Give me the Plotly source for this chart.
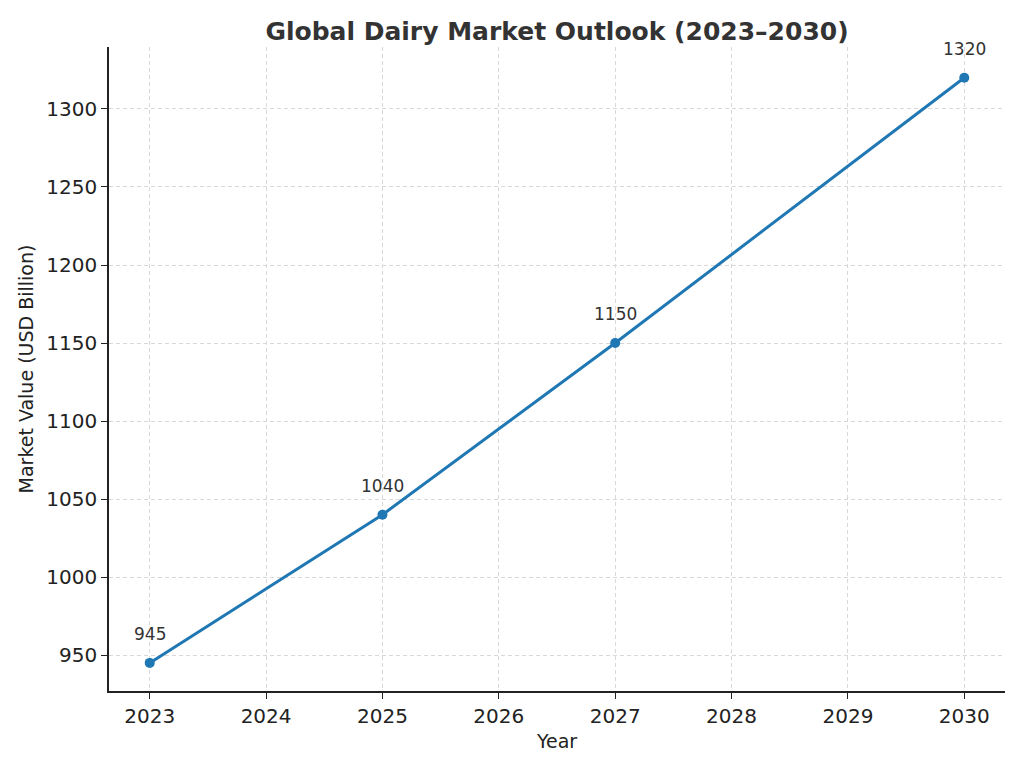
import plotly.graph_objects as go

years = [2023, 2025, 2027, 2030]
values = [945, 1040, 1150, 1320]
labels = ["945", "1040", "1150", "1320"]
tick_years = list(range(2023, 2031))
tick_values = [950, 1000, 1050, 1100, 1150, 1200, 1250, 1300]

fig = go.Figure()
fig.add_trace(go.Scatter(
    x=years, y=values, mode="lines+markers",
    line=dict(color="#1f77b4", width=3),
    marker=dict(size=10, color="#1f77b4"),
    cliponaxis=False,
))

# value labels above the points
for x, y, t in zip(years, values, labels):
    fig.add_annotation(x=x, y=y, text=t, showarrow=False, yshift=29,
                       font=dict(size=17, color="#333333"))

axis_common = dict(
    showgrid=True, gridcolor="#d8d8d8", griddash="4px,3px", gridwidth=1,
    showline=True, linecolor="#222222", linewidth=1.5,
    ticks="outside", ticklen=6, tickcolor="#222222",
    tickfont=dict(size=20, color="#222222"),
    zeroline=False,
)

fig.update_layout(
    width=1024, height=768,
    paper_bgcolor="white", plot_bgcolor="white",
    font=dict(family="DejaVu Sans", color="#222222"),
    title=dict(text="<b>Global Dairy Market Outlook (2023–2030)</b>",
               x=0.5, xref="paper", y=0.97, yanchor="middle",
               font=dict(size=25, color="#333333")),
    margin=dict(l=101, r=27, t=39, b=85),
    showlegend=False,
    xaxis=dict(axis_common, range=[2022.65, 2030.35], tickvals=tick_years,
               title=dict(text="Year", font=dict(size=19), standoff=8)),
    yaxis=dict(axis_common, range=[927, 1339.7], tickvals=tick_values,
               title=dict(text="Market Value (USD Billion)", font=dict(size=19), standoff=8)),
)

fig.write_html("out.html")
